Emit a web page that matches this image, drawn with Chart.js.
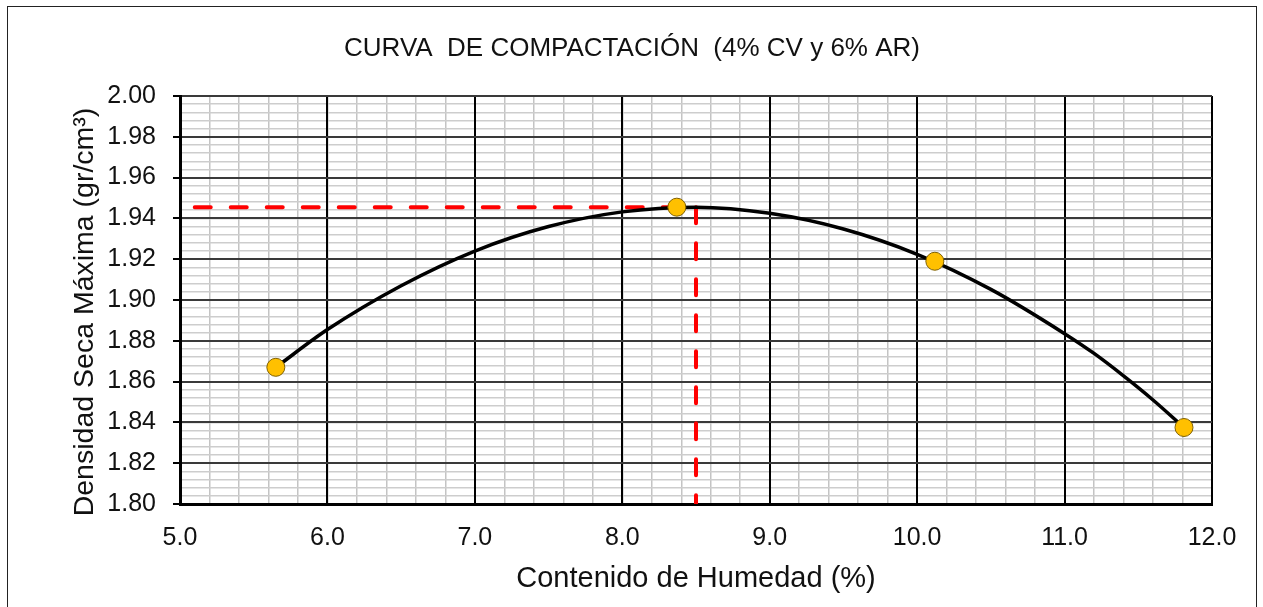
<!DOCTYPE html>
<html>
<head>
<meta charset="utf-8">
<script src="https://cdn.jsdelivr.net/npm/chart.js@4.4.1/dist/chart.umd.min.js"></script>
<style>
  body { margin: 0; background: #fff; }
  canvas { display: block; }
</style>
</head>
<body>
<canvas id="chart" width="1263" height="607"></canvas>
<script>
// ensayo Proctor: puntos medidos
const humedad = [5.65, 8.37, 10.12, 11.81];
const densidad = [1.867, 1.9455, 1.919, 1.8375];

// curva de ajuste
const curvaX = [5.65, 6.0, 6.5, 7.0, 7.5, 8.0, 8.5, 9.0, 9.5, 10.0, 10.5, 11.0, 11.2, 11.4, 11.6, 11.81];
const curvaY = [1.867, 1.8855, 1.907, 1.924, 1.936, 1.9432, 1.9455, 1.9425, 1.9348, 1.9224, 1.9052, 1.8835, 1.8738, 1.8628, 1.851, 1.8375];

// optimo (OCH / MDS) y lineas guia
const optHumedad = 8.5;
const optDensidad = 1.9455;
const guiaInicio = 5.1;

// ejes: divisiones principales y secundarias
const xMin = 5.0, xMax = 12.0, xStep = 1.0, xMinorStep = 0.2;
const yMin = 1.80, yMax = 2.00, yStep = 0.02, yMinorStep = 0.004;

const titulo = 'CURVA  DE COMPACTACIÓN  (4% CV y 6% AR)';
const tituloX = 'Contenido de Humedad (%)';
const tituloY = 'Densidad Seca Máxima (gr/cm³)';

const FONT = '"Liberation Sans", Arial, sans-serif';

const toXY = (xs, ys) => xs.map((x, i) => ({x: x, y: ys[i]}));

// textos y marco exterior
const textos = {
  id: 'textos',
  afterDraw(chart) {
    const ctx = chart.ctx;
    const area = chart.chartArea;
    ctx.save();
    ctx.strokeStyle = '#222';
    ctx.lineWidth = 1;
    ctx.strokeRect(7.5, 6.5, 1249, 700);

    ctx.fillStyle = '#111';
    ctx.textAlign = 'center';
    ctx.textBaseline = 'alphabetic';
    ctx.font = '26px ' + FONT;
    ctx.fillText(titulo, 632, 56);

    ctx.font = '29px ' + FONT;
    ctx.fillText(tituloX, (area.left + area.right) / 2, 587);

    ctx.font = '28.5px ' + FONT;
    ctx.translate(93, 312);
    ctx.rotate(-Math.PI / 2);
    ctx.fillText(tituloY, 0, 0);
    ctx.restore();
  }
};

// escala auxiliar solo para la cuadricula secundaria
const menor = (min, max, step, color, fit) => ({
  type: 'linear',
  min: min,
  max: max,
  afterFit: fit,
  border: { display: false },
  grid: { z: -2, drawTicks: false, color: color, lineWidth: 1.5 },
  ticks: { display: false, stepSize: step, autoSkip: false }
});

new Chart(document.getElementById('chart'), {
  type: 'scatter',
  data: {
    datasets: [
      {
        data: toXY(humedad, densidad),
        pointRadius: 9,
        pointHoverRadius: 9,
        backgroundColor: '#FFC000',
        borderColor: '#7F6000',
        borderWidth: 1
      },
      {
        data: toXY(curvaX, curvaY),
        showLine: true,
        cubicInterpolationMode: 'monotone',
        borderColor: '#000',
        borderWidth: 3.5,
        pointRadius: 0
      },
      {
        data: [{x: guiaInicio, y: optDensidad}, {x: optHumedad, y: optDensidad}],
        showLine: true,
        borderColor: '#FF0000',
        borderWidth: 4,
        borderDash: [16, 20],
        borderCapStyle: 'round',
        pointRadius: 0
      },
      {
        data: [{x: optHumedad, y: optDensidad}, {x: optHumedad, y: yMin}],
        showLine: true,
        borderColor: '#FF0000',
        borderWidth: 4,
        borderDash: [16, 20],
        borderCapStyle: 'round',
        pointRadius: 0
      }
    ]
  },
  options: {
    responsive: false,
    animation: false,
    layout: { padding: { left: 0, top: 96, right: 51, bottom: 0 } },
    plugins: {
      legend: { display: false },
      tooltip: { enabled: false }
    },
    scales: {
      x: {
        type: 'linear',
        position: 'bottom',
        min: xMin,
        max: xMax,
        afterFit: (s) => { s.height = 103; },
        border: { display: true, color: '#000', width: 3 },
        grid: { z: -1, drawTicks: false, color: '#000', lineWidth: 2 },
        ticks: {
          stepSize: xStep,
          autoSkip: false,
          maxRotation: 0,
          padding: 19,
          color: '#111',
          font: { family: FONT, size: 25 },
          callback: (v) => Number(v).toFixed(1)
        }
      },
      y: {
        type: 'linear',
        position: 'left',
        min: yMin,
        max: yMax,
        afterFit: (s) => { s.width = 180; },
        border: { display: true, color: '#000', width: 3 },
        grid: {
          z: -1,
          tickLength: 7,
          tickColor: '#000',
          tickWidth: 2,
          color: '#3a3a3a',
          lineWidth: 2
        },
        ticks: {
          stepSize: yStep,
          autoSkip: false,
          padding: 17,
          color: '#111',
          font: { family: FONT, size: 25 },
          callback: (v) => Number(v).toFixed(2)
        }
      },
      xMenor: Object.assign(menor(xMin, xMax, xMinorStep, '#c4c4c4', (s) => { s.height = 0; }), { position: 'bottom' }),
      yMenor: Object.assign(menor(yMin, yMax, yMinorStep, '#cdcdcd', (s) => { s.width = 0; }), { position: 'left' })
    }
  },
  plugins: [textos]
});
</script>
</body>
</html>
